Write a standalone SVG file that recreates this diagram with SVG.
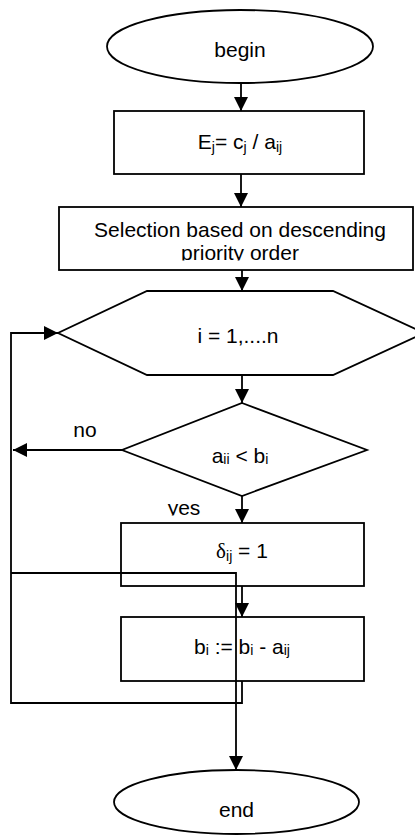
<svg xmlns="http://www.w3.org/2000/svg" width="415" height="835" viewBox="0 0 415 835">
<style>
.s{fill:#fff;stroke:#000;stroke-width:1.8}
.c{fill:none;stroke:#000;stroke-width:1.8}
.t{font-family:"Liberation Sans",Arial,sans-serif;font-size:21px;fill:#000;text-anchor:middle}
.sb{font-size:14px}
.g{font-family:"Liberation Serif",serif}
</style>
<defs>
<marker id="ah" markerUnits="userSpaceOnUse" markerWidth="15" markerHeight="15" refX="14" refY="7" orient="auto">
<path d="M0,0 L14,7 L0,14 Z" fill="#000"/>
</marker>
<clipPath id="clipSel"><rect x="59" y="207" width="355" height="53.5"/></clipPath>
<clipPath id="clipDia"><rect x="120" y="400" width="250" height="64"/></clipPath>
<clipPath id="clipYes"><rect x="150" y="490" width="70" height="25.5"/></clipPath>
</defs>
<g id="begin">
<ellipse class="s" cx="240" cy="46.5" rx="133" ry="36.5"/>
<text class="t" x="240" y="57">begin</text>
</g>
<g id="efficiency">
<rect class="s" x="114" y="111" width="250" height="63"/>
<text class="t" x="240" y="149">E<tspan class="sb" dy="3">j</tspan><tspan dy="-3">= c</tspan><tspan class="sb" dy="3">j</tspan><tspan dy="-3"> / a</tspan><tspan class="sb" dy="3">ij</tspan></text>
</g>
<g id="selection">
<rect class="s" x="59" y="207" width="354" height="63"/>
<g clip-path="url(#clipSel)">
<text class="t" x="240" y="236.5">Selection based on descending</text>
<text class="t" x="240" y="260">priority order</text>
</g>
</g>
<g id="loop">
<polygon class="s" points="147,291 333,291 424,333 333,375 147,375 58,333"/>
<text class="t" x="238" y="343">i = 1,....n</text>
</g>
<g id="decision">
<polygon class="s" points="242,403 367,450 242,496 122,450"/>
<g clip-path="url(#clipDia)">
<text class="t" x="240" y="463">a<tspan class="sb" dy="1">ij</tspan><tspan dy="-1"> &lt; b</tspan><tspan class="sb" dy="1">i</tspan></text>
</g>
<text class="t" x="85" y="437">no</text>
<g clip-path="url(#clipYes)">
<text class="t" x="184" y="515">yes</text>
</g>
</g>
<g id="delta">
<rect class="s" x="121" y="523" width="243" height="63"/>
<text class="t" x="242" y="558"><tspan class="g">δ</tspan><tspan class="sb" dy="3">ij</tspan><tspan dy="-3"> = 1</tspan></text>
</g>
<g id="update">
<rect class="s" x="121" y="617" width="243" height="64"/>
<text class="t" x="242" y="654">b<tspan class="sb" dy="1">i</tspan><tspan dy="-1"> := b</tspan><tspan class="sb" dy="1">i</tspan><tspan dy="-1"> - a</tspan><tspan class="sb" dy="1">ij</tspan></text>
</g>
<g id="end">
<ellipse class="s" cx="236.5" cy="802" rx="122.5" ry="32"/>
<text class="t" x="236.5" y="817">end</text>
</g>
<g id="connectors">
<line class="c" x1="241" y1="83" x2="241" y2="111" marker-end="url(#ah)"/>
<line class="c" x1="241" y1="174" x2="241" y2="207" marker-end="url(#ah)"/>
<line class="c" x1="242" y1="270" x2="242" y2="291" marker-end="url(#ah)"/>
<line class="c" x1="242" y1="375" x2="242" y2="403" marker-end="url(#ah)"/>
<line class="c" x1="122" y1="450" x2="13" y2="450" marker-end="url(#ah)"/>
<line class="c" x1="242" y1="496" x2="242" y2="523" marker-end="url(#ah)"/>
<line class="c" x1="242" y1="586" x2="242" y2="617" marker-end="url(#ah)"/>
<polyline class="c" points="242,681 242,703 11,703 11,333 58,333" marker-end="url(#ah)"/>
<polyline class="c" points="11,573 236,573 236,770" marker-end="url(#ah)"/>
</g>
</svg>
